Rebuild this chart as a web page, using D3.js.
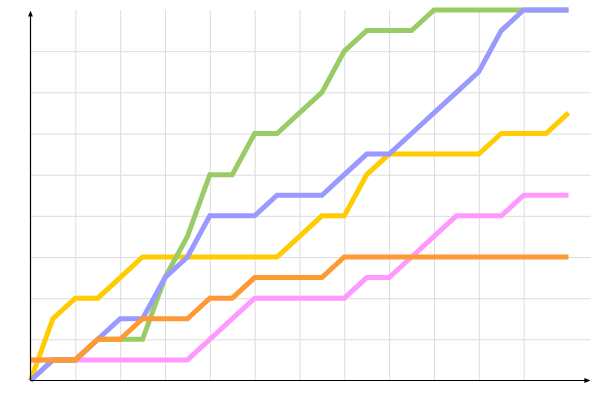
<!DOCTYPE html>
<html>
<head>
<meta charset="utf-8">
<script src="https://cdn.jsdelivr.net/npm/d3@7"></script>
<style>
  body { margin: 0; background: #fff; }
  svg { display: block; }
</style>
</head>
<body>
<svg id="chart"></svg>
<script>
// x positions 0..24
const steps = d3.range(0, 25);
const yellowVals = [0, 3, 4, 4, 5, 6, 6, 6, 6, 6, 6, 6, 7, 8, 8, 10, 11, 11, 11, 11, 11, 12, 12, 12, 13];
const pinkVals   = [1, 1, 1, 1, 1, 1, 1, 1, 2, 3, 4, 4, 4, 4, 4, 5, 5, 6, 7, 8, 8, 8, 9, 9, 9];
const greenVals  = [0, 1, 1, 2, 2, 2, 5, 7, 10, 10, 12, 12, 13, 14, 16, 17, 17, 17, 18, 18, 18, 18, 18, 18, 18];
const blueVals   = [0, 1, 1, 2, 3, 3, 5, 6, 8, 8, 8, 9, 9, 9, 10, 11, 11, 12, 13, 14, 15, 17, 18, 18, 18];
const orangeVals = [1, 1, 1, 2, 2, 3, 3, 3, 4, 4, 5, 5, 5, 5, 6, 6, 6, 6, 6, 6, 6, 6, 6, 6, 6];
const xGridTicks = [2, 4, 6, 8, 10, 12, 14, 16, 18, 20, 22];
const yGridTicks = [2, 4, 6, 8, 10, 12, 14, 16];

const series = [
  { name: "yellow", values: yellowVals, color: "#ffcc00" },
  { name: "pink",   values: pinkVals,   color: "#ff99ff" },
  { name: "green",  values: greenVals,  color: "#99cc66" },
  { name: "blue",   values: blueVals,   color: "#9999ff" },
  { name: "orange", values: orangeVals, color: "#ff9933" }
];

const width = 600, height = 400;
const margin = { left: 30.5, right: 590.9, top: 10, bottom: 380.5 };

const svg = d3.select("#chart")
  .attr("width", width)
  .attr("height", height);

const x = d3.scaleLinear().domain([0, 25]).range([margin.left, margin.right]);
const y = d3.scaleLinear().domain([0, 18]).range([margin.bottom, margin.top]);

// grid
svg.append("g")
  .attr("class", "x-grid")
  .attr("transform", `translate(0, ${margin.bottom})`)
  .call(d3.axisBottom(x).tickValues(xGridTicks).tickSize(-(margin.bottom - margin.top)).tickFormat(""))
  .call(g => g.select(".domain").remove())
  .call(g => g.selectAll("line").attr("stroke", "#dddddd"));

svg.append("g")
  .attr("class", "y-grid")
  .attr("transform", `translate(${margin.left}, 0)`)
  .call(d3.axisLeft(y).tickValues(yGridTicks).tickSize(-(margin.right - margin.left)).tickFormat(""))
  .call(g => g.select(".domain").remove())
  .call(g => g.selectAll("line").attr("stroke", "#dddddd"));

// arrow marker
svg.append("defs").append("marker")
  .attr("id", "arrow")
  .attr("viewBox", "0 -5 10 10")
  .attr("refX", 6)
  .attr("refY", 0)
  .attr("markerWidth", 5)
  .attr("markerHeight", 5)
  .attr("orient", "auto")
  .append("path")
  .attr("d", "M0,-4L10,0L0,4Z")
  .attr("fill", "#000");

// lines
const line = d3.line()
  .x((d, i) => x(steps[i]))
  .y(d => y(d));

svg.selectAll(".series")
  .data(series)
  .enter()
  .append("path")
  .attr("class", "series")
  .attr("d", d => line(d.values))
  .attr("fill", "none")
  .attr("stroke", d => d.color)
  .attr("stroke-width", 5);

// axes
svg.append("line")
  .attr("x1", margin.left).attr("y1", margin.bottom)
  .attr("x2", 588).attr("y2", margin.bottom)
  .attr("stroke", "#000")
  .attr("stroke-width", 1.2)
  .attr("marker-end", "url(#arrow)");

svg.append("line")
  .attr("x1", margin.left).attr("y1", margin.bottom)
  .attr("x2", margin.left).attr("y2", 13)
  .attr("stroke", "#000")
  .attr("stroke-width", 1.2)
  .attr("marker-end", "url(#arrow)");
</script>
</body>
</html>
